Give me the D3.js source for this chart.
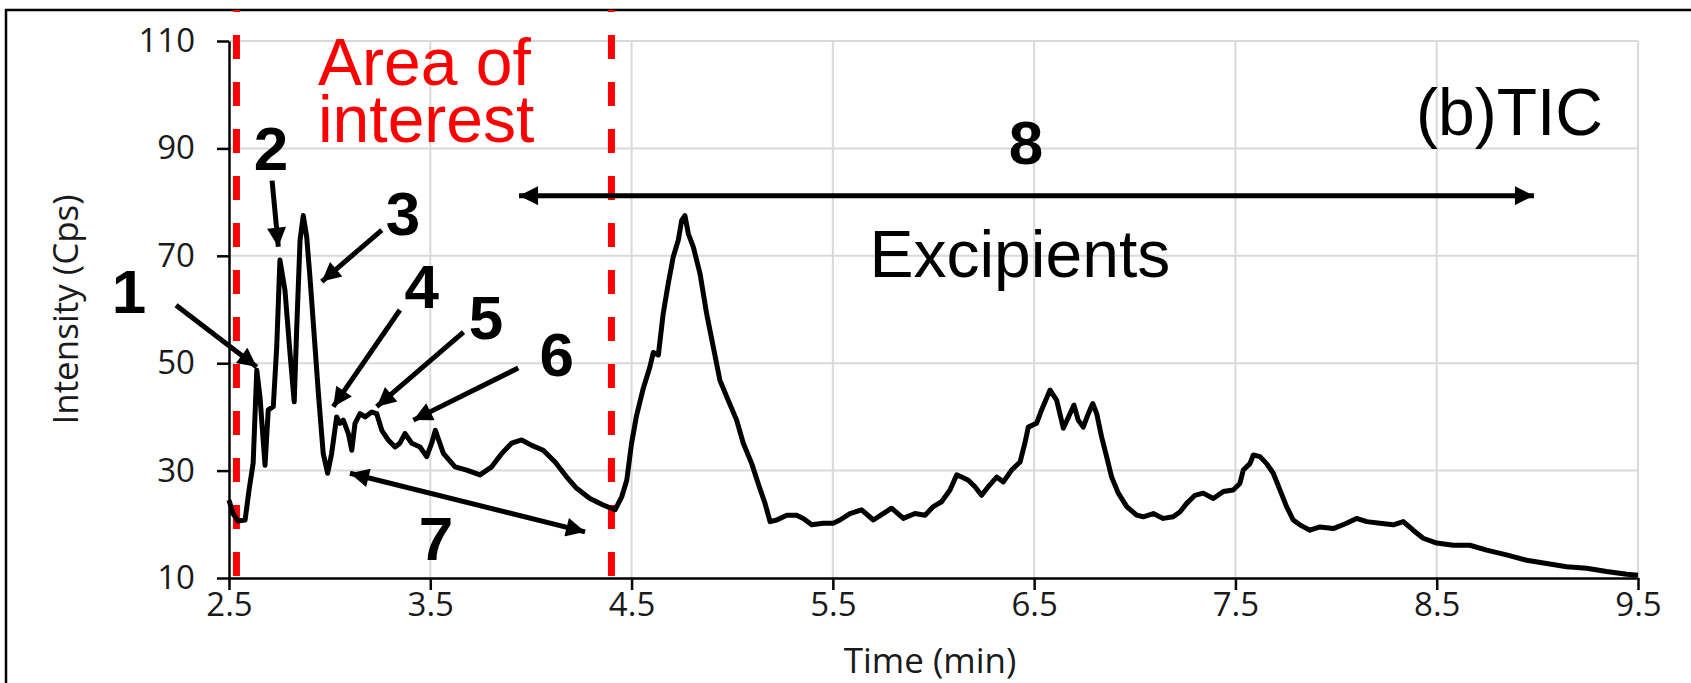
<!DOCTYPE html>
<html>
<head>
<meta charset="utf-8">
<script src="https://cdn.jsdelivr.net/npm/d3@7"></script>
<style>
  body { margin: 0; background: #fff; }
  svg { display: block; }
</style>
</head>
<body>
<svg width="1691" height="683"></svg>
<script>
// Data
var times = [2.50, 2.52, 2.545, 2.58, 2.60, 2.62, 2.638, 2.654, 2.679, 2.695, 2.72, 2.737, 2.753, 2.778, 2.803, 2.824, 2.836, 2.853, 2.869, 2.886,
  2.902, 2.919, 2.944, 2.968, 2.99, 3.01, 3.035, 3.051, 3.068, 3.093, 3.11, 3.126, 3.151, 3.176, 3.209, 3.234, 3.259, 3.291, 3.325, 3.349,
  3.374, 3.408, 3.449, 3.482, 3.507, 3.525, 3.565, 3.623, 3.681, 3.747, 3.805, 3.855, 3.904, 3.954, 4.004, 4.061, 4.12, 4.178, 4.227, 4.293,
  4.359, 4.418, 4.451, 4.476, 4.50, 4.525, 4.558, 4.591, 4.608, 4.633, 4.657, 4.682, 4.707, 4.732, 4.749, 4.765, 4.782, 4.807, 4.84, 4.873,
  4.906, 4.939, 4.98, 5.022, 5.055, 5.097, 5.129, 5.163, 5.188, 5.221, 5.271, 5.32, 5.353, 5.395, 5.452, 5.502, 5.535, 5.585, 5.643, 5.701,
  5.75, 5.792, 5.85, 5.908, 5.958, 5.999, 6.04, 6.082, 6.115, 6.14, 6.173, 6.206, 6.239, 6.272, 6.314, 6.347, 6.388, 6.43, 6.454, 6.471,
  6.512, 6.537, 6.579, 6.612, 6.645, 6.678, 6.698, 6.719, 6.744, 6.769, 6.791, 6.811, 6.835, 6.86, 6.885, 6.918, 6.96, 7.009, 7.042, 7.092,
  7.141, 7.191, 7.224, 7.258, 7.299, 7.34, 7.39, 7.44, 7.489, 7.522, 7.539, 7.572, 7.589, 7.622, 7.655, 7.688, 7.721, 7.754, 7.787, 7.82,
  7.87, 7.92, 7.986, 8.052, 8.102, 8.152, 8.218, 8.284, 8.334, 8.383, 8.433, 8.50, 8.582, 8.665, 8.748, 8.847, 8.947, 9.046, 9.146, 9.245,
  9.344, 9.444, 9.50];
var intensity = [24.5, 22.0, 20.6, 20.8, 26.5, 31.4, 48.7, 43.7, 31.0, 41.3, 41.9, 53.0, 69.2, 63.6, 51.9, 42.8, 56.1, 72.9, 77.5, 73.5,
  66.1, 57.4, 44.4, 33.2, 29.5, 33.2, 40.0, 38.8, 39.4, 36.9, 33.8, 38.8, 40.6, 40.0, 40.9, 40.6, 37.5, 35.7, 34.4, 35.1,
  36.9, 35.1, 34.4, 32.6, 35.1, 37.5, 33.2, 30.7, 30.1, 29.2, 30.7, 33.2, 35.1, 35.7, 34.7, 33.8, 31.6, 28.8, 26.7, 24.8,
  23.6, 22.7, 25.1, 28.2, 35.1, 40.3, 45.3, 49.3, 52.0, 51.5, 59.2, 64.8, 69.8, 72.9, 76.6, 77.5, 74.1, 71.6, 66.7, 59.2,
  53.0, 46.8, 43.1, 39.4, 35.1, 31.3, 27.6, 23.9, 20.5, 20.8, 21.7, 21.7, 21.1, 19.9, 20.2, 20.2, 20.8, 22.0, 22.7, 20.8,
  22.0, 23.0, 21.1, 22.0, 21.7, 23.3, 24.2, 26.4, 29.2, 28.8, 28.2, 27.0, 25.4, 27.0, 28.8, 27.9, 30.1, 31.6, 35.1, 38.1,
  38.8, 41.3, 45.0, 43.1, 37.9, 40.6, 42.2, 39.4, 38.1, 40.6, 42.5, 40.6, 36.3, 32.6, 28.8, 25.8, 23.3, 21.7, 21.4, 22.0,
  21.1, 21.4, 22.3, 23.9, 25.4, 25.8, 24.8, 26.1, 26.4, 27.6, 30.1, 31.3, 32.9, 32.6, 31.3, 29.5, 26.4, 23.3, 20.8, 19.9,
  18.9, 19.5, 19.2, 20.2, 21.1, 20.5, 20.2, 19.9, 20.5, 18.9, 17.4, 16.5, 16.1, 16.1, 15.2, 14.3, 13.3, 12.7, 12.1, 11.8,
  11.2, 10.7, 10.5];

var xTicks = [2.5, 3.5, 4.5, 5.5, 6.5, 7.5, 8.5, 9.5];
var yTicks = [10, 30, 50, 70, 90, 110];

// area of interest boundaries (min)
var areaBounds = [2.537, 4.40];

// numbered peak arrows: [label, labelT, labelV, tailT, tailV, headT, headV]
var peakLabels = [
  ["1", 2.003, 59.3, 2.237, 60.8, 2.638, 49.3],
  ["2", 2.709, 86.0, 2.714, 84.0, 2.745, 71.7],
  ["3", 3.364, 73.9, 3.259, 74.8, 2.961, 65.2],
  ["4", 3.457, 60.3, 3.349, 59.9, 3.018, 41.9],
  ["5", 3.777, 54.5, 3.665, 55.8, 3.234, 41.9],
  ["6", 4.128, 47.6, 3.937, 49.1, 3.416, 39.4]
];

var svg = d3.select("svg"),
    width = +svg.attr("width"),
    height = +svg.attr("height");

var x = d3.scaleLinear().domain([2.5, 9.5]).range([229, 1638]);
var y = d3.scaleLinear().domain([10, 110]).range([578, 41]);

// outer frame
svg.append("rect")
  .attr("x", 6).attr("y", 10)
  .attr("width", width + 20).attr("height", height + 20)
  .attr("fill", "none").attr("stroke", "#000").attr("stroke-width", 2.5);

// arrow heads
var defs = svg.append("defs");
function marker(id, orient) {
  defs.append("marker")
    .attr("id", id)
    .attr("viewBox", "0 0 10 10")
    .attr("refX", 10).attr("refY", 5)
    .attr("markerUnits", "userSpaceOnUse")
    .attr("markerWidth", 24).attr("markerHeight", 19)
    .attr("orient", orient)
    .append("path")
      .attr("d", "M0,0 L10,5 L0,10 Z")
      .attr("fill", "#000");
}
marker("head", "auto");
marker("headStart", "auto-start-reverse");

// grid
svg.append("g").selectAll("line")
  .data(yTicks.slice(1))
  .enter().append("line")
    .attr("x1", x(2.5)).attr("x2", x(9.5))
    .attr("y1", function(d){ return y(d) }).attr("y2", function(d){ return y(d) })
    .attr("stroke", "#d9d9d9").attr("stroke-width", 2);
svg.append("g").selectAll("line")
  .data(xTicks.slice(1))
  .enter().append("line")
    .attr("x1", function(d){ return x(d) }).attr("x2", function(d){ return x(d) })
    .attr("y1", y(110)).attr("y2", y(10))
    .attr("stroke", "#d9d9d9").attr("stroke-width", 2);

// axes
var yAxis = svg.append("g")
  .attr("transform", "translate(" + x(2.5) + ",0)")
  .call(d3.axisLeft(y).tickValues(yTicks).tickSize(12).tickPadding(22).tickSizeOuter(0));
var xAxis = svg.append("g")
  .attr("transform", "translate(0," + y(10) + ")")
  .call(d3.axisBottom(x).tickValues(xTicks).tickSize(12).tickPadding(3).tickSizeOuter(0).tickFormat(d3.format(".1f")));
[yAxis, xAxis].forEach(function(g) {
  g.select(".domain").attr("stroke", "#000").attr("stroke-width", 2.5);
  g.selectAll(".tick line").attr("stroke", "#000").attr("stroke-width", 2.5);
  g.selectAll(".tick text")
    .attr("fill", "#1a1a1a")
    .style("font-family", "'Open Sans', sans-serif")
    .style("font-size", "33px");
});

svg.append("text")
  .attr("x", 930).attr("y", 673)
  .attr("text-anchor", "middle")
  .style("font-family", "'Open Sans', sans-serif").style("font-size", "35px")
  .attr("fill", "#1a1a1a")
  .text("Time (min)");

svg.append("text")
  .attr("transform", "translate(78," + ((y(10) + y(110)) / 2) + ") rotate(-90)")
  .attr("text-anchor", "middle")
  .style("font-family", "'Open Sans', sans-serif").style("font-size", "35px")
  .attr("fill", "#1a1a1a")
  .text("Intensity (Cps)");

// area of interest lines
svg.append("g").selectAll("line")
  .data(areaBounds)
  .enter().append("line")
    .attr("x1", function(d){ return x(d) }).attr("x2", function(d){ return x(d) })
    .attr("y1", 10).attr("y2", y(10))
    .attr("stroke", "#ff0000").attr("stroke-width", 7)
    .attr("stroke-dasharray", "24,23").attr("stroke-dashoffset", 22);

// TIC trace
var line = d3.line()
  .x(function(d){ return x(d[0]) })
  .y(function(d){ return y(d[1]) });
svg.append("path")
  .datum(times.map(function(t, i){ return [t, intensity[i]] }))
  .attr("d", line)
  .attr("fill", "none")
  .attr("stroke", "#000")
  .attr("stroke-width", 5)
  .attr("stroke-linejoin", "round");

// annotations
var annoFont = "'Liberation Sans', Arial, sans-serif";

svg.append("g").selectAll("line")
  .data(peakLabels)
  .enter().append("line")
    .attr("x1", function(d){ return x(d[3]) }).attr("y1", function(d){ return y(d[4]) })
    .attr("x2", function(d){ return x(d[5]) }).attr("y2", function(d){ return y(d[6]) })
    .attr("stroke", "#000").attr("stroke-width", 5)
    .attr("marker-end", "url(#head)");

svg.append("g").selectAll("text")
  .data(peakLabels.concat([["7", 3.528, 13.4], ["8", 6.459, 87.1]]))
  .enter().append("text")
    .attr("x", function(d){ return x(d[1]) })
    .attr("y", function(d){ return y(d[2]) })
    .attr("text-anchor", "middle")
    .style("font-family", annoFont).style("font-size", "62px").style("font-weight", "bold")
    .text(function(d){ return d[0] });

// double arrows 7 and 8
var spans = [[3.101, 29.5, 4.269, 18.6], [3.941, 81.2, 8.983, 81.2]];
svg.append("g").selectAll("line")
  .data(spans)
  .enter().append("line")
    .attr("x1", function(d){ return x(d[0]) }).attr("y1", function(d){ return y(d[1]) })
    .attr("x2", function(d){ return x(d[2]) }).attr("y2", function(d){ return y(d[3]) })
    .attr("stroke", "#000").attr("stroke-width", 5)
    .attr("marker-start", "url(#headStart)")
    .attr("marker-end", "url(#head)");

svg.append("text")
  .style("font-family", annoFont).style("font-size", "66px")
  .attr("fill", "#ff0000")
  .selectAll("tspan")
  .data([["Area of", 101.8], ["interest", 91.2]])
  .enter().append("tspan")
    .attr("x", x(2.942))
    .attr("y", function(d){ return y(d[1]) })
    .text(function(d){ return d[0] });

svg.append("text")
  .attr("x", x(6.429)).attr("y", y(66.1))
  .attr("text-anchor", "middle")
  .style("font-family", annoFont).style("font-size", "66px")
  .text("Excipients");

svg.append("text")
  .attr("x", x(9.326)).attr("y", y(92.5))
  .attr("text-anchor", "end")
  .style("font-family", annoFont).style("font-size", "66px")
  .text("(b)TIC");
</script>
</body>
</html>
